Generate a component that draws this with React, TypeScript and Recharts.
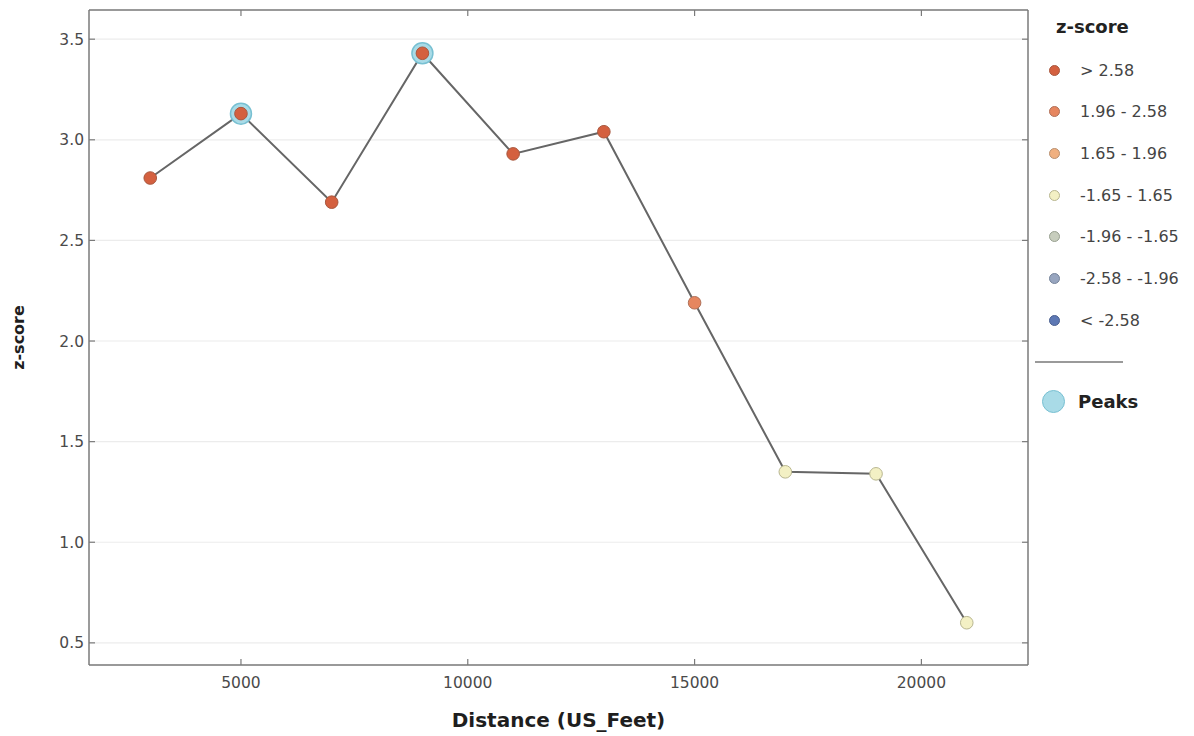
import React from "react";
import {
  ComposedChart,
  Line,
  Scatter,
  XAxis,
  YAxis,
  CartesianGrid,
} from "recharts";

// distance bands (US feet) and the z-score at each one
const distances = [3000, 5000, 7000, 9000, 11000, 13000, 15000, 17000, 19000, 21000];
const zScores = [2.81, 3.13, 2.69, 3.43, 2.93, 3.04, 2.19, 1.35, 1.34, 0.6];
const peakDistances = [5000, 9000];

const xTicks = [5000, 10000, 15000, 20000];
const yTicks = [0.5, 1.0, 1.5, 2.0, 2.5, 3.0, 3.5];

const binLabels = [
  "> 2.58",
  "1.96 - 2.58",
  "1.65 - 1.96",
  "-1.65 - 1.65",
  "-1.96 - -1.65",
  "-2.58 - -1.96",
  "< -2.58",
];
const binColors = ["#d4603f", "#e6865f", "#f0b080", "#f3f0c4", "#c7cdbd", "#97a5bf", "#5d78b4"];
const binStrokes = ["#a8583f", "#b07058", "#b89070", "#b8b690", "#98a090", "#75839a", "#4a5f90"];

const peakFill = "#a9dbe7";
const peakStroke = "#78c0d2";

function binIndex(z: number) {
  if (z > 2.58) return 0;
  if (z > 1.96) return 1;
  if (z > 1.65) return 2;
  if (z > -1.65) return 3;
  if (z > -1.96) return 4;
  if (z > -2.58) return 5;
  return 6;
}

const data = distances.map((d, i) => ({ x: d, z: zScores[i] }));
const peaks = data.filter((p) => peakDistances.includes(p.x));

const axisStroke = "#7a7a7a";
const tickColor = "#4a4a4a";
const tickFont = 15.5;
const TICK_LEN = 6;

// inward tick marks drawn alongside the labels
function BottomTick(props: any) {
  const { x, y, payload } = props;
  const axisY = y - 12;
  return (
    <g>
      <line x1={x} x2={x} y1={axisY} y2={axisY - TICK_LEN} stroke={axisStroke} strokeWidth={1.2} />
      <text x={x} y={y} dy="0.71em" textAnchor="middle" fill={tickColor} fontSize={tickFont} fontFamily="DejaVu Sans">
        {payload.value}
      </text>
    </g>
  );
}

function TopTick(props: any) {
  const { x, y } = props;
  return <line x1={x} x2={x} y1={y} y2={y + TICK_LEN} stroke={axisStroke} strokeWidth={1.2} />;
}

function LeftTick(props: any) {
  const { x, y, payload } = props;
  const axisX = x + 5;
  return (
    <g>
      <line x1={axisX} x2={axisX + TICK_LEN} y1={y} y2={y} stroke={axisStroke} strokeWidth={1.2} />
      <text x={x} y={y} dy="0.355em" textAnchor="end" fill={tickColor} fontSize={tickFont} fontFamily="DejaVu Sans">
        {Number(payload.value).toFixed(1)}
      </text>
    </g>
  );
}

function RightTick(props: any) {
  const { x, y } = props;
  return <line x1={x} x2={x - TICK_LEN} y1={y} y2={y} stroke={axisStroke} strokeWidth={1.2} />;
}

function PointShape(props: any) {
  const { cx, cy, payload } = props;
  const k = binIndex(payload.z);
  return <circle cx={cx} cy={cy} r={6.3} fill={binColors[k]} stroke={binStrokes[k]} strokeWidth={1} />;
}

function PeakShape(props: any) {
  const { cx, cy } = props;
  return <circle cx={cx} cy={cy} r={10.5} fill={peakFill} stroke={peakStroke} strokeWidth={1.5} />;
}

function ChartLegend() {
  return (
    <div
      style={{
        position: "absolute",
        left: 1032,
        top: 0,
        width: 162,
        fontFamily: "DejaVu Sans",
      }}
    >
      <div
        style={{
          position: "absolute",
          left: 24,
          top: 16,
          fontWeight: "bold",
          fontSize: 18,
          color: "#222",
        }}
      >
        z-score
      </div>
      {binLabels.map((label, i) => (
        <div
          key={label}
          style={{
            position: "absolute",
            left: 0,
            top: 70 + i * 41.7 - 11,
            height: 22,
            display: "flex",
            alignItems: "center",
            whiteSpace: "nowrap",
          }}
        >
          <span
            style={{
              display: "inline-block",
              marginLeft: 17,
              width: 9,
              height: 9,
              borderRadius: "50%",
              background: binColors[i],
              border: `1px solid ${binStrokes[i]}`,
            }}
          />
          <span style={{ marginLeft: 20, fontSize: 16, color: "#444" }}>{label}</span>
        </div>
      ))}
      <div
        style={{
          position: "absolute",
          left: 3,
          top: 361,
          width: 88,
          height: 2,
          background: "#9a9a9a",
        }}
      />
      <div
        style={{
          position: "absolute",
          left: 0,
          top: 389,
          height: 24,
          display: "flex",
          alignItems: "center",
        }}
      >
        <span
          style={{
            display: "inline-block",
            marginLeft: 10,
            width: 21,
            height: 21,
            borderRadius: "50%",
            background: peakFill,
            border: `1px solid ${peakStroke}`,
          }}
        />
        <span style={{ marginLeft: 13, fontSize: 18, fontWeight: "bold", color: "#222" }}>
          Peaks
        </span>
      </div>
    </div>
  );
}

export default function App() {
  return (
    <div
      style={{
        position: "absolute",
        left: 0,
        top: 0,
        width: 1194,
        height: 736,
        background: "#fff",
        fontFamily: "DejaVu Sans",
      }}
    >
      <ComposedChart
        width={1194}
        height={736}
        data={data}
        margin={{ top: 9, right: 165, bottom: 0, left: 0 }}
      >
        <CartesianGrid
          yAxisId="left"
          xAxisId="bottom"
          vertical={false}
          stroke="#ececec"
          strokeWidth={1.2}
        />
        <XAxis
          xAxisId="bottom"
          dataKey="x"
          type="number"
          domain={[1650, 22350]}
          ticks={xTicks}
          allowDataOverflow
          height={71}
          tickSize={0}
          tickMargin={12}
          tickLine={false}
          tick={BottomTick}
          stroke={axisStroke}
          strokeWidth={1.5}
          label={{
            value: "Distance (US_Feet)",
            position: "insideBottom",
            offset: 9,
            style: { fontSize: 20, fontWeight: "bold", fill: "#1e1e1e", fontFamily: "DejaVu Sans" },
          }}
        />
        <XAxis
          xAxisId="top"
          orientation="top"
          dataKey="x"
          type="number"
          domain={[1650, 22350]}
          ticks={xTicks}
          allowDataOverflow
          height={1}
          tickSize={0}
          tickMargin={0}
          tickLine={false}
          tick={TopTick}
          stroke={axisStroke}
          strokeWidth={1.5}
        />
        <YAxis
          yAxisId="left"
          type="number"
          domain={[0.39, 3.645]}
          ticks={yTicks}
          allowDataOverflow
          width={89}
          tickSize={0}
          tickMargin={5}
          tickLine={false}
          tick={LeftTick}
          stroke={axisStroke}
          strokeWidth={1.5}
          label={{
            value: "z-score",
            angle: -90,
            position: "insideLeft",
            offset: 18,
            style: {
              fontSize: 16,
              fontWeight: "bold",
              fill: "#1e1e1e",
              fontFamily: "DejaVu Sans",
              textAnchor: "middle",
            },
          }}
        />
        <YAxis
          yAxisId="right"
          orientation="right"
          type="number"
          domain={[0.39, 3.645]}
          ticks={yTicks}
          allowDataOverflow
          width={1}
          tickSize={0}
          tickMargin={0}
          tickLine={false}
          tick={RightTick}
          stroke={axisStroke}
          strokeWidth={1.5}
        />
        {/* invisible series so the frame axes (top/right) get drawn */}
        <Line
          xAxisId="top"
          yAxisId="right"
          dataKey="z"
          stroke="none"
          dot={false}
          activeDot={false}
          legendType="none"
          isAnimationActive={false}
        />
        <Line
          xAxisId="bottom"
          yAxisId="left"
          dataKey="z"
          stroke="#666"
          strokeWidth={2}
          dot={false}
          activeDot={false}
          isAnimationActive={false}
        />
        <Scatter
          xAxisId="bottom"
          yAxisId="left"
          data={peaks}
          dataKey="z"
          shape={PeakShape}
          isAnimationActive={false}
        />
        <Scatter
          xAxisId="bottom"
          yAxisId="left"
          data={data}
          dataKey="z"
          shape={PointShape}
          isAnimationActive={false}
        />
      </ComposedChart>
      <ChartLegend />
    </div>
  );
}
